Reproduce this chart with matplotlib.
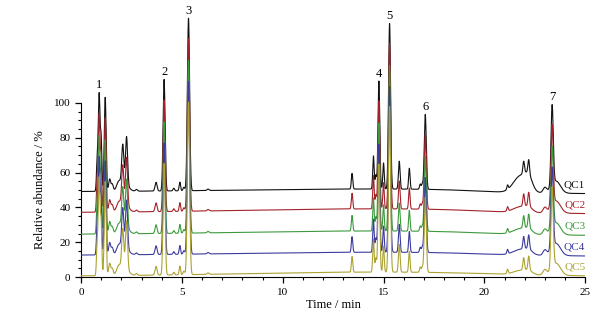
import numpy as np
import matplotlib
matplotlib.use("Agg")
import matplotlib.pyplot as plt
from matplotlib.ticker import MultipleLocator, FixedLocator

# traces, stacked (QC1 on top of the stack, drawn first)
TRACES = ["QC1", "QC2", "QC3", "QC4", "QC5"]
COLORS = ["#111111", "#a3222a", "#3c9a3c", "#3b3b9e", "#aca233"]
OFFSET = [49.0, 37.0, 24.5, 12.5, 0.5]     # baseline at t=0
DRIFT = [1.6, 2.2, 2.0, 1.8, 2.4]          # slow mid-run baseline rise
DROP = [1.6, 1.3, 1.2, 1.0, 0.6]           # baseline fall near end of run
HUMP = [12.0, 4.0, 4.0, 4.0, 3.0]          # late-eluting hump 21-22.5 min

# peak table (common to all QC injections): retention time / min, height / %, sigma / min
RT = [0.80, 0.90, 1.00, 1.20, 1.42, 1.55, 1.85, 2.07, 2.26, 2.10, 2.75,
      3.72, 4.12, 4.60, 4.90, 5.10, 5.33, 6.30,
      13.44, 14.50, 14.62, 14.77, 15.00, 15.30, 15.78, 16.28, 16.82, 16.92, 17.07,
      21.15, 21.95, 22.20, 23.00, 23.36, 23.55]
HEIGHT = [16, 56, 28, 54, 7, 4, 3, 21, 27, 6, 1,
          5, 64, 1.5, 5, 2, 99, 0.8,
          9, 19, 8, 62, 15, 95, 16, 12, 3, 3, 43,
          2.5, 7, 8, 3, 46, 7]
SIGMA = [0.035, 0.045, 0.035, 0.045, 0.05, 0.05, 0.09, 0.05, 0.05, 0.2, 0.05,
         0.05, 0.05, 0.04, 0.035, 0.04, 0.055, 0.05,
         0.035, 0.035, 0.035, 0.045, 0.035, 0.05, 0.04, 0.035, 0.035, 0.035, 0.05,
         0.035, 0.04, 0.04, 0.09, 0.055, 0.22]

PEAK_ID = ["1", "2", "3", "4", "5", "6", "7"]
PEAK_RT = [0.90, 4.12, 5.33, 14.77, 15.30, 17.07, 23.36]

plt.rcParams["font.family"] = ["Liberation Serif", "DejaVu Serif"]


def trace(t, i):
    y = OFFSET[i] + DRIFT[i] * np.exp(-0.5 * ((t - 15.0) / 7.0) ** 2)
    y -= DROP[i] / (1 + np.exp(-(t - 19.5)))
    y += HUMP[i] * (0.8 * np.exp(-0.5 * ((t - 21.8) / 0.35) ** 2)
                    + 0.5 * np.exp(-0.5 * ((t - 22.2) / 0.18) ** 2))
    for rt, h, s in zip(RT, HEIGHT, SIGMA):
        y += h * np.exp(-0.5 * ((t - rt) / s) ** 2)
    return y


t = np.linspace(0, 25, 6001)
fig = plt.figure(figsize=(6.16, 3.23), dpi=100)
ax = fig.add_axes([0.1315, 0.142, 0.8185, 0.836])

curves = [trace(t, i) for i in range(len(TRACES))]
for i, (name, c) in enumerate(zip(TRACES, COLORS)):
    ax.plot(t, curves[i], color=c, lw=0.8, zorder=2 + i)
    ax.text(25.0, curves[i][-1] + 2.5, name, color=c, fontsize=8,
            ha="right", va="bottom")

for lab, rt in zip(PEAK_ID, PEAK_RT):
    top = np.interp(rt, t, curves[0])
    ax.annotate(lab, (rt, top), xytext=(0, 1), textcoords="offset points",
                ha="center", va="bottom", fontsize=9)

ax.set_xlim(0, 25)
ax.set_ylim(0, 155)
for s in ("top", "right"):
    ax.spines[s].set_visible(False)
ax.spines["left"].set_bounds(0, 100)
ax.set_yticks(np.arange(0, 101, 20))
ax.yaxis.set_minor_locator(FixedLocator(np.arange(0, 101, 5)))
ax.xaxis.set_major_locator(MultipleLocator(5))
ax.xaxis.set_minor_locator(MultipleLocator(1))
ax.tick_params(labelsize=8, length=4, width=0.9)
ax.tick_params(which="minor", length=2.5, width=0.8)
ax.set_xlabel("Time / min", fontsize=9, labelpad=2)
ax.set_ylabel("Relative abundance / %", fontsize=9)
ax.yaxis.set_label_coords(-0.07, 50 / 155)

fig.savefig("out.png", dpi=100)
